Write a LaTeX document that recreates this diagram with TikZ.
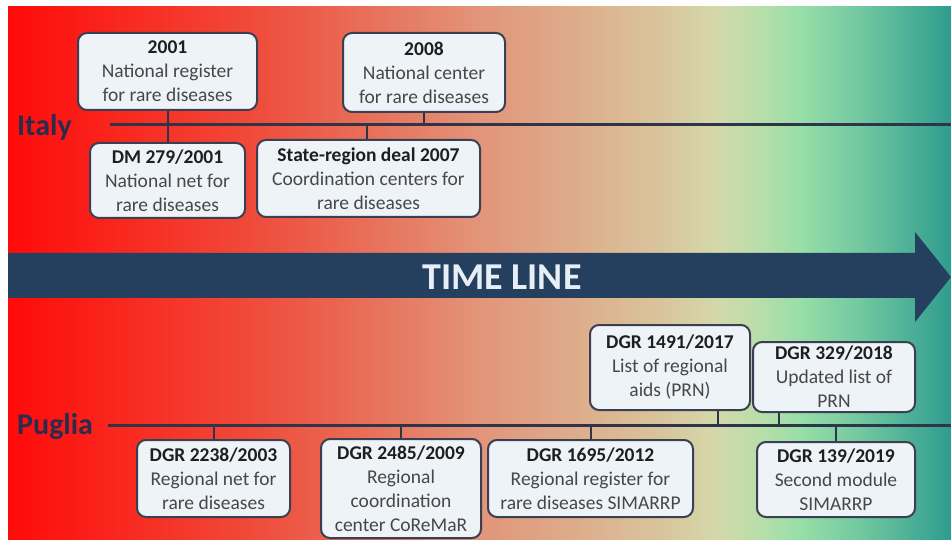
\documentclass[tikz,border=0pt]{standalone}
\usepackage{fontspec}
\setmainfont{Carlito}
\definecolor{g0}{HTML}{FF0A0A}
\definecolor{g1}{HTML}{F82A20}
\definecolor{g2}{HTML}{F04A3A}
\definecolor{g3}{HTML}{E8705A}
\definecolor{g4}{HTML}{E2957A}
\definecolor{g5}{HTML}{DDAE8C}
\definecolor{g6}{HTML}{D9C49C}
\definecolor{g7}{HTML}{D4D8AA}
\definecolor{g8}{HTML}{B8DEAA}
\definecolor{g9}{HTML}{98DEA8}
\definecolor{g10}{HTML}{72C8A0}
\definecolor{g11}{HTML}{2E9C8E}
\definecolor{arrowcol}{HTML}{253F5E}
\definecolor{arrowtext}{HTML}{E6EEF6}
\definecolor{boxline}{HTML}{3A4052}
\definecolor{boxfill}{HTML}{EEF3F8}
\definecolor{tline}{HTML}{2E3548}
\definecolor{bodytext}{HTML}{474747}
\definecolor{headtext}{HTML}{1E1E1E}
\definecolor{lblcol}{HTML}{2B2B50}
\pgfdeclarehorizontalshading{bgshade}{100bp}{color(0bp)=(g0); color(25bp)=(g0); color(31.47bp)=(g1); color(37.83bp)=(g2); color(44.19bp)=(g3); color(50.03bp)=(g4); color(55.33bp)=(g5); color(59.57bp)=(g6); color(62.49bp)=(g7); color(64.87bp)=(g8); color(66.99bp)=(g9); color(70.18bp)=(g10); color(75bp)=(g11); color(100bp)=(g11)}
\newcommand{\boxhead}[1]{\textcolor{headtext}{\textbf{#1}}}
\begin{document}
\begin{tikzpicture}[x=1pt,y=-1pt,
  box/.style={draw=boxline, line width=2pt, fill=boxfill, rounded corners=9pt, inner sep=0pt, align=center, font=\fontsize{19.5}{24}\selectfont, text=bodytext},
  tl/.style={draw=tline, line width=3pt},
  conn/.style={draw=tline, line width=2pt},
  lbl/.style={font=\fontsize{30}{36}\selectfont\bfseries, text=lblcol, anchor=base west, inner sep=0pt}]
\useasboundingbox (0,0) rectangle (951,540);
\fill[white] (0,0) rectangle (951,540);
\shade[shading=bgshade] (8,7) rectangle (951,540);
% arrow
\fill[arrowcol] (8,253) -- (915,253) -- (915,232) -- (951,277) -- (915,322) -- (915,298) -- (8,298) -- cycle;
\node[font=\fontsize{38}{44}\selectfont\bfseries, text=arrowtext, inner sep=0pt] (tlabel) at (502,277) {TIME LINE};
% labels
\node[lbl] (italy) at (17,136) {Italy};
\node[lbl] (puglia) at (17,434) {Puglia};
% lines
\coordinate (iL) at (110,125);
\coordinate (iR) at (951,125);
\coordinate (pL) at (108,425);
\coordinate (pR) at (951,425);
\draw[tl] (iL) -- (iR);
\draw[tl] (pL) -- (pR);
% Italy boxes
\node[box, minimum width=179, minimum height=77] (b2001) at (167.5,71.5) {\boxhead{2001}\\National register\\for rare diseases};
\node[box, minimum width=155, minimum height=75] (dm) at (167.5,180.5) {\boxhead{DM 279/2001}\\National net for\\rare diseases};
\node[box, minimum width=162, minimum height=79] (b2008) at (424,72.5) {\boxhead{2008}\\National center\\for rare diseases};
\node[box, minimum width=223, minimum height=77] (state) at (368.5,178.5) {\boxhead{State-region deal 2007}\\Coordination centers for\\rare diseases};
\draw[conn] (b2001.south) -- (dm.north);
\draw[conn] (b2008.south) -- (b2008.south |- iL);
\draw[conn] ([xshift=-2]state.north) -- ([xshift=-2]state.north |- iL);
% Puglia boxes
\node[box, minimum width=153, minimum height=77] (p2238) at (213.5,478.5) {\boxhead{DGR 2238/2003}\\Regional net for\\rare diseases};
\node[box, minimum width=160, minimum height=99] (p2485) at (401,488.5) {\boxhead{DGR 2485/2009}\\Regional\\coordination\\center CoReMaR};
\node[box, minimum width=205, minimum height=77] (p1695) at (590.5,478.5) {\boxhead{DGR 1695/2012}\\Regional register for\\rare diseases SIMARRP};
\node[box, minimum width=160, minimum height=85] (p1491) at (670,367.5) {\boxhead{DGR 1491/2017}\\List of regional\\aids (PRN)};
\node[box, minimum width=162, minimum height=70] (p329) at (834,377) {\boxhead{DGR 329/2018}\\Updated list of\\PRN};
\node[box, minimum width=158, minimum height=75] (p139) at (836,479.5) {\boxhead{DGR 139/2019}\\Second module\\SIMARRP};
\draw[conn] (p2238.north) -- (p2238.north |- pL);
\draw[conn] (p2485.north) -- (p2485.north |- pL);
\draw[conn] (p1695.north) -- (p1695.north |- pL);
\draw[conn] ([xshift=48]p1491.south) -- ([xshift=48]p1491.south |- pL);
\draw[conn] ([xshift=-55]p329.south) -- ([xshift=-55]p329.south |- pL);
\draw[conn] (p139.north) -- (p139.north |- pL);
\end{tikzpicture}
\end{document}
